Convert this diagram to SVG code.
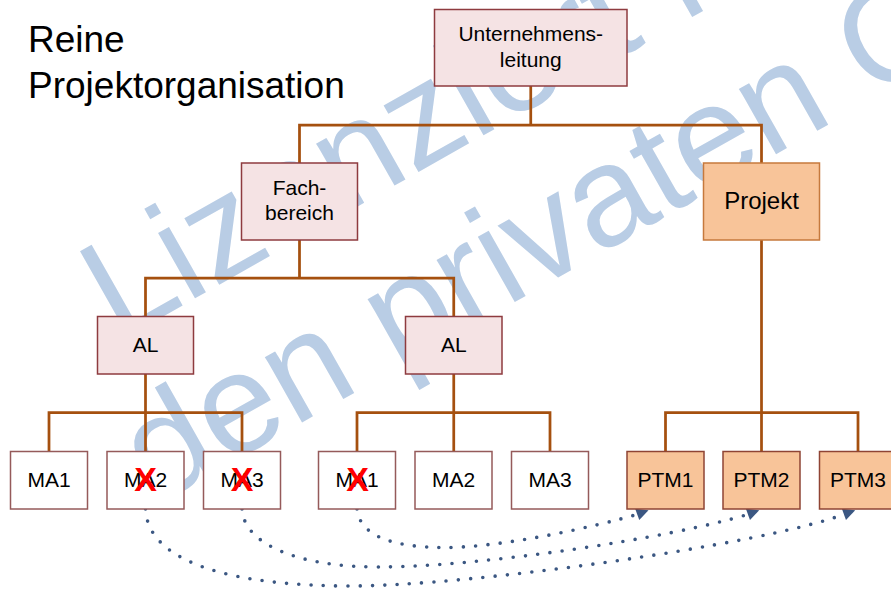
<svg xmlns="http://www.w3.org/2000/svg" xmlns:xlink="http://www.w3.org/1999/xlink" width="891" height="592" viewBox="0 0 891 592">
  <style>
    text { font-family: "Liberation Sans", Arial, sans-serif; fill: #000; }
    .lbl { font-size: 21px; text-anchor: middle; }
    .big { font-size: 24px; text-anchor: middle; }
    .title { font-size: 37px; }
    .mark { font-size: 142px; fill: #b9cde5; }
    .x { font-size: 34px; font-weight: bold; fill: #ff0000; text-anchor: middle; }
    .pink rect { fill: #f5e3e4; stroke: #8e3b3f; stroke-width: 1.5; }
    .white rect { fill: #ffffff; stroke: #955a5a; stroke-width: 1.5; }
    .ptm rect { fill: #f8c499; stroke: #8f4434; stroke-width: 1.5; }
    .proj rect { fill: #f8c499; stroke: #c6793d; stroke-width: 1.5; }
    .tree path { fill: none; stroke: #a5500f; stroke-width: 2.75; }
    .dots path { fill: none; stroke: #3b5782; stroke-width: 3.6; stroke-linecap: round; stroke-dasharray: 0 12.3; }
    .heads use { fill: #3b5782; }
  </style>
  <defs>
    <path id="ah" d="M0,0 L-12,-6 L-12,6 Z"/>
  </defs>

  <rect width="891" height="592" fill="#ffffff"/>

  <!-- background watermark -->
  <g id="watermark">
    <text class="mark" transform="translate(118,342) rotate(-29.5)">Lizenziert für</text>
    <text class="mark" transform="translate(156,505) rotate(-29.5)">den privaten Gebrauch</text>
  </g>

  <!-- heading -->
  <g id="title">
    <text class="title" x="28" y="52">Reine</text>
    <text class="title" x="28" y="98">Projektorganisation</text>
  </g>

  <!-- connectors -->
  <g id="connectors">
    <g class="tree">
      <path d="M530.75,86 V125"/>
      <path d="M299.5,163 V125 H761.5 V163"/>
      <path d="M299.5,240 V278"/>
      <path d="M145.5,316.5 V278 H453.75 V316.5"/>
      <path d="M145.5,374 V412.7"/>
      <path d="M49,451.5 V412.7 H242 V451.5"/>
      <path d="M145.5,412.7 V451.5"/>
      <path d="M453.75,374 V412.7"/>
      <path d="M357,451.5 V412.7 H550 V451.5"/>
      <path d="M453.75,412.7 V451.5"/>
      <path d="M761.5,240 V412.7"/>
      <path d="M665.5,451.5 V412.7 H858 V451.5"/>
      <path d="M761.5,412.7 V451.5"/>
    </g>
    <g class="dots">
      <path d="M357,509 C360,537 395,547.5 445,547.5 C500,547.5 590,528 637.2,514.4"/>
      <path d="M242,509 C244,545 300,567 378,567 C480,567 670,538 747.9,514.4"/>
      <path d="M145.5,509 C148,565 240,586 350,586 C470,586 760,545 843.9,514.4"/>
    </g>
    <g class="heads">
      <use xlink:href="#ah" href="#ah" transform="translate(648.5,510.3) rotate(-20)"/>
      <use xlink:href="#ah" href="#ah" transform="translate(759.2,510.3) rotate(-20)"/>
      <use xlink:href="#ah" href="#ah" transform="translate(855.2,510.3) rotate(-20)"/>
    </g>
  </g>

  <!-- nodes -->
  <g id="unternehmensleitung" class="pink">
    <rect x="434.5" y="9.5" width="192.5" height="76.5"/>
    <text class="lbl" x="530.75" y="41">Unternehmens-</text>
    <text class="lbl" x="530.75" y="66.5">leitung</text>
  </g>
  <g id="fachbereich" class="pink">
    <rect x="241.5" y="163" width="116" height="77"/>
    <text class="lbl" x="299.5" y="195">Fach-</text>
    <text class="lbl" x="299.5" y="220">bereich</text>
  </g>
  <g id="projekt" class="proj">
    <rect x="703.5" y="163" width="116" height="77"/>
    <text class="big" x="761.5" y="208.5">Projekt</text>
  </g>
  <g id="al1" class="pink">
    <rect x="97.5" y="316.5" width="96" height="57.5"/>
    <text class="lbl" x="145.5" y="352">AL</text>
  </g>
  <g id="al2" class="pink">
    <rect x="405.5" y="316.5" width="96.5" height="57.5"/>
    <text class="lbl" x="453.75" y="352">AL</text>
  </g>
  <g id="ma1a" class="white">
    <rect x="10.5" y="451.5" width="77" height="57.5"/>
    <text class="lbl" x="49" y="487">MA1</text>
  </g>
  <g id="ma2a" class="white">
    <rect x="107" y="451.5" width="77" height="57.5"/>
    <text class="lbl" x="145.5" y="487">MA2</text>
    <text class="x" x="145.5" y="490.5">X</text>
  </g>
  <g id="ma3a" class="white">
    <rect x="203.5" y="451.5" width="77" height="57.5"/>
    <text class="lbl" x="242" y="487">MA3</text>
    <text class="x" x="242" y="490.5">X</text>
  </g>
  <g id="ma1b" class="white">
    <rect x="318.5" y="451.5" width="77" height="57.5"/>
    <text class="lbl" x="357" y="487">MA1</text>
    <text class="x" x="357.5" y="490.5">X</text>
  </g>
  <g id="ma2b" class="white">
    <rect x="415" y="451.5" width="77" height="57.5"/>
    <text class="lbl" x="453.5" y="487">MA2</text>
  </g>
  <g id="ma3b" class="white">
    <rect x="511.5" y="451.5" width="77" height="57.5"/>
    <text class="lbl" x="550" y="487">MA3</text>
  </g>
  <g id="ptm1" class="ptm">
    <rect x="627" y="451.5" width="77" height="57.5"/>
    <text class="lbl" x="665.5" y="487">PTM1</text>
  </g>
  <g id="ptm2" class="ptm">
    <rect x="723" y="451.5" width="77" height="57.5"/>
    <text class="lbl" x="761.5" y="487">PTM2</text>
  </g>
  <g id="ptm3" class="ptm">
    <rect x="819.5" y="451.5" width="77" height="57.5"/>
    <text class="lbl" x="858" y="487">PTM3</text>
  </g>
</svg>
